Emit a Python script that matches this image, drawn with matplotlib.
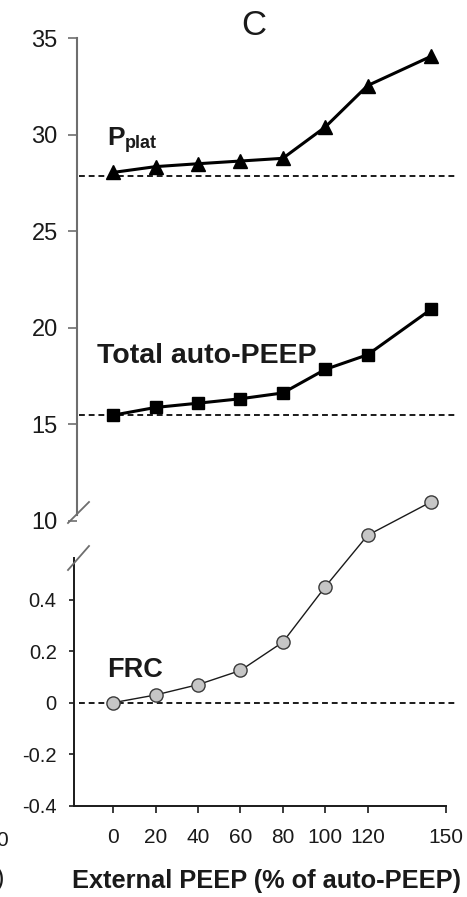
import matplotlib
matplotlib.use('Agg')
import matplotlib.pyplot as plt

# ── Data ──────────────────────────────────────────────────────────────────────
EXT_PEEP   = [0, 20, 40, 60, 80, 100, 120, 150]     # % of auto-PEEP
PPLAT      = [28.05, 28.35, 28.5, 28.64, 28.78, 30.4, 32.55, 34.07]
AUTO_PEEP  = [15.47, 15.87, 16.09, 16.32, 16.62, 17.84, 18.6, 20.96]
FRC        = [0.0, 0.03, 0.07, 0.125, 0.235, 0.45, 0.65, 0.78]
PPLAT_BASE = 27.85
PEEP_BASE  = 15.47
FRC_BASE   = 0.0

UPPER_TICKS = [10, 15, 20, 25, 30, 35]
LOWER_TICKS = [-0.4, -0.2, 0, 0.2, 0.4]
LOWER_LBLS  = ['-0.4', '-0.2', '0', '0.2', '0.4']
X_TICKS     = [0, 20, 40, 60, 80, 100, 120, 157]
X_LBLS      = ['0', '20', '40', '60', '80', '100', '120', '150']

FONT = 'Liberation Sans'
INK  = '#1a1a1a'
GRAY = '#6e6e6e'
DASH = (0, (3, 2))

plt.rcParams['font.family'] = FONT

fig = plt.figure(figsize=(4.67, 8.97), dpi=100, facecolor='white')
XLIM = (-18.5, 161.2)

# lower panel: FRC change (L)
axl = fig.add_axes([0.1585, 0.1018, 0.8157, 0.3445])
axl.set_xlim(*XLIM)
axl.set_ylim(-0.4, 0.8)
for s in ('top', 'right'):
    axl.spines[s].set_visible(False)
axl.spines['left'].set_bounds(-0.4, 0.56)
axl.spines['bottom'].set_bounds(XLIM[0], 157)
for s in ('left', 'bottom'):
    axl.spines[s].set_color(INK)
    axl.spines[s].set_linewidth(1.4)
axl.set_yticks(LOWER_TICKS)
axl.set_yticklabels(LOWER_LBLS)
axl.set_xticks(X_TICKS)
axl.set_xticklabels(X_LBLS)
axl.tick_params(axis='y', length=3.5, width=1.2, pad=9, labelsize=14.5,
                colors=INK)
axl.tick_params(axis='x', length=5, width=1.2, pad=11, labelsize=15,
                colors=INK)

axl.hlines(FRC_BASE, -16, XLIM[1], color=INK, lw=1.4, ls=DASH, zorder=1)
axl.plot(EXT_PEEP, FRC, color=INK, lw=1.0, marker='o', markersize=9.5,
         markerfacecolor='#c6c6c6', markeredgecolor='#3a3a3a',
         markeredgewidth=1.0, clip_on=False, zorder=3)
axl.text(-3.1, 0.10, 'FRC', fontsize=19.5, fontweight='bold', color=INK,
         ha='left', va='baseline')

# upper panel: pressures (cmH2O)
axu = fig.add_axes([0.1585, 0.4195, 0.8157, 0.5378])
axu.patch.set_alpha(0)
axu.set_xlim(*XLIM)
axu.set_ylim(10, 35)
for s in ('top', 'right', 'bottom'):
    axu.spines[s].set_visible(False)
axu.spines['left'].set_position(('data', -17.3))
axu.spines['left'].set_bounds(10.3, 35)
axu.spines['left'].set_color(GRAY)
axu.spines['left'].set_linewidth(1.5)
axu.set_xticks([])
axu.set_yticks(UPPER_TICKS)
axu.tick_params(axis='y', length=6.5, width=1.2, pad=7, labelsize=17,
                colors=INK)
axu.tick_params(axis='y', color=GRAY)

axu.hlines([PPLAT_BASE, PEEP_BASE], -16, XLIM[1], color=INK, lw=1.4,
           ls=DASH, zorder=1)
axu.plot(EXT_PEEP, PPLAT, color='black', lw=2.2, marker='^',
         markersize=10.5, zorder=3)
axu.plot(EXT_PEEP, AUTO_PEEP, color='black', lw=2.2, marker='s',
         markersize=9, zorder=3)

axu.text(-3, 29.45, 'P', fontsize=19, fontweight='bold', color=INK,
         ha='left', va='baseline')
axu.text(5.5, 29.3, 'plat', fontsize=13, fontweight='bold', color=INK,
         ha='left', va='baseline')
axu.text(-7.7, 18.15, 'Total auto-PEEP', fontsize=20.5, fontweight='bold',
         color=INK, ha='left', va='baseline')

# axis break slashes
for (x0, y0, x1, y1) in [(68, 523, 89, 502), (68, 570, 89, 546)]:
    fig.add_artist(plt.Line2D([x0 / 467, x1 / 467],
                              [1 - y0 / 897, 1 - y1 / 897],
                              color=GRAY, lw=1.3))

fig.text(254 / 467, 1 - 35 / 897, 'C', fontsize=25, color=INK,
         ha='center', va='baseline')
fig.text(267 / 467, 1 - 888 / 897, 'External PEEP (% of auto-PEEP)',
         fontsize=18.3, fontweight='bold', color=INK, ha='center',
         va='baseline')

# edge of the neighbouring panel
fig.text(-4 / 467, 1 - 846 / 897, '0', fontsize=15, color=INK,
         ha='left', va='baseline')
fig.text(-4 / 467, 1 - 886 / 897, ')', fontsize=18, color=INK,
         ha='left', va='baseline')

fig.savefig('out.png', dpi=100, facecolor='white')
